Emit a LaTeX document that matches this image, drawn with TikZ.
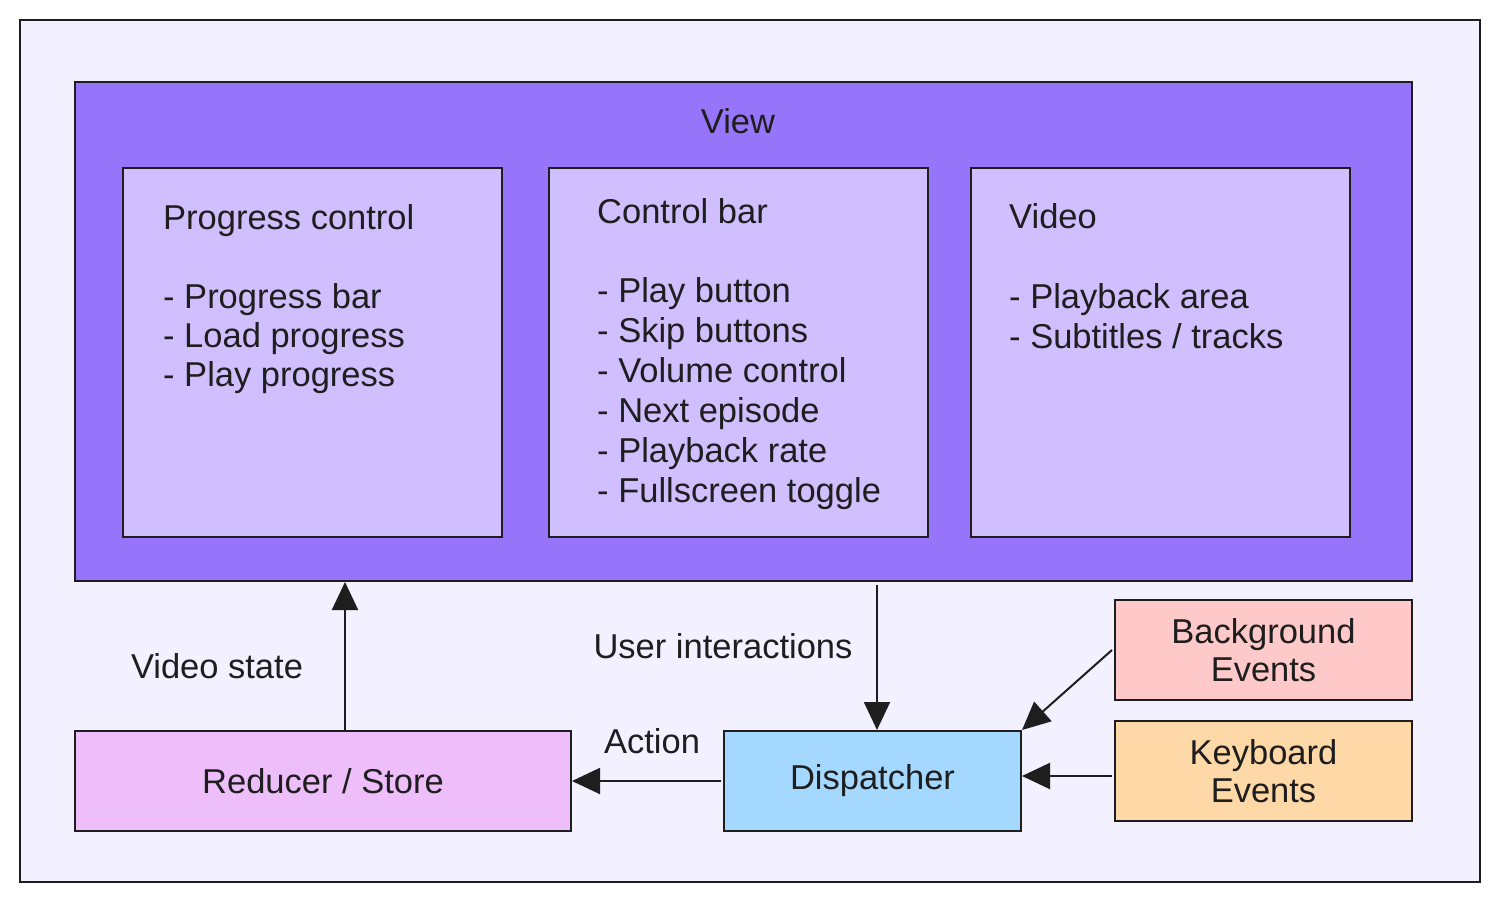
\documentclass[tikz,border=0pt]{standalone}
\usepackage{fontspec}
\setmainfont{Liberation Sans}
\usetikzlibrary{arrows.meta}
\definecolor{ink}{HTML}{1E1E1E}
\definecolor{framebg}{HTML}{F3F0FF}
\definecolor{viewbg}{HTML}{9775FA}
\definecolor{panelbg}{HTML}{D0BFFF}
\definecolor{reducerbg}{HTML}{EEBEFA}
\definecolor{dispbg}{HTML}{A5D8FF}
\definecolor{bgevbg}{HTML}{FFC9C9}
\definecolor{kbbg}{HTML}{FFD8A8}
\begin{document}
\begin{tikzpicture}[x=1pt,y=-1pt,
  box/.style={draw=ink, line width=2pt, rectangle, inner sep=0pt, text=ink,
    font=\fontsize{34.5}{38}\selectfont, align=center},
  txt/.style={inner sep=0pt, anchor=base west, text=ink, font=\fontsize{34.5}{40}\selectfont},
  lbl/.style={inner sep=0pt, anchor=base, text=ink, font=\fontsize{34.5}{40}\selectfont},
  arr/.style={draw=ink, line width=2pt, -{Triangle[length=28pt,width=26pt]}}]
\useasboundingbox (0,0) rectangle (1499,902);
% outer frame
\node[box, fill=framebg, minimum width=1460pt, minimum height=862pt] (frame) at (750,451) {};
% view
\node[box, fill=viewbg, minimum width=1337pt, minimum height=499pt] (view) at (743.5,331.5) {};
\node[lbl] (viewlbl) at (738,133) {View};
% panels
\node[box, fill=panelbg, minimum width=379pt, minimum height=369pt] (progress) at (312.5,352.5) {};
\node[box, fill=panelbg, minimum width=379pt, minimum height=369pt] (control) at (738.5,352.5) {};
\node[box, fill=panelbg, minimum width=379pt, minimum height=369pt] (video) at (1160.5,352.5) {};
% panel texts
\node[txt] (p0) at (163,229) {Progress control};
\node[txt] (p1) at (163,308) {- Progress bar};
\node[txt] (p2) at (163,347) {- Load progress};
\node[txt] (p3) at (163,386) {- Play progress};
\node[txt] (c0) at (597,223) {Control bar};
\node[txt] (c1) at (597,302) {- Play button};
\node[txt] (c2) at (597,342) {- Skip buttons};
\node[txt] (c3) at (597,382) {- Volume control};
\node[txt] (c4) at (597,422) {- Next episode};
\node[txt] (c5) at (597,462) {- Playback rate};
\node[txt] (c6) at (597,502) {- Fullscreen toggle};
\node[txt] (v0) at (1009,228) {Video};
\node[txt] (v1) at (1009,308) {- Playback area};
\node[txt] (v2) at (1009,348) {- Subtitles / tracks};
% lower boxes
\node[box, fill=reducerbg, minimum width=496pt, minimum height=100pt] (reducer) at (323,781) {Reducer / Store};
\node[box, fill=dispbg, minimum width=297pt, minimum height=100pt] (dispatcher) at (872.5,781) {Dispatcher};
\node[box, fill=bgevbg, minimum width=297pt, minimum height=100pt] (bgev) at (1263.5,650) {Background\\Events};
\node[box, fill=kbbg, minimum width=297pt, minimum height=100pt] (kbev) at (1263.5,771) {Keyboard\\Events};
% connectors
\draw[arr] ([xshift=22pt]reducer.north) -- ([xshift=22pt]reducer.north |- view.south);
\node[lbl] (vslbl) at (217,678) {Video state};
\draw[arr] ([xshift=133.5pt,yshift=-3pt]view.south) -- ([xshift=133.5pt]view.south |- dispatcher.north);
\node[lbl] (uilbl) at (723,658) {User interactions};
\draw[arr] ([xshift=-2pt]dispatcher.west) -- (reducer.east);
\node[lbl] (actlbl) at (652,753) {Action};
\draw[arr] ([xshift=-2pt]bgev.west) -- (dispatcher.north east);
\draw[arr] ([xshift=-2pt,yshift=-5pt]kbev.west) -- ([yshift=-5pt]kbev.west -| dispatcher.east);
\end{tikzpicture}
\end{document}
